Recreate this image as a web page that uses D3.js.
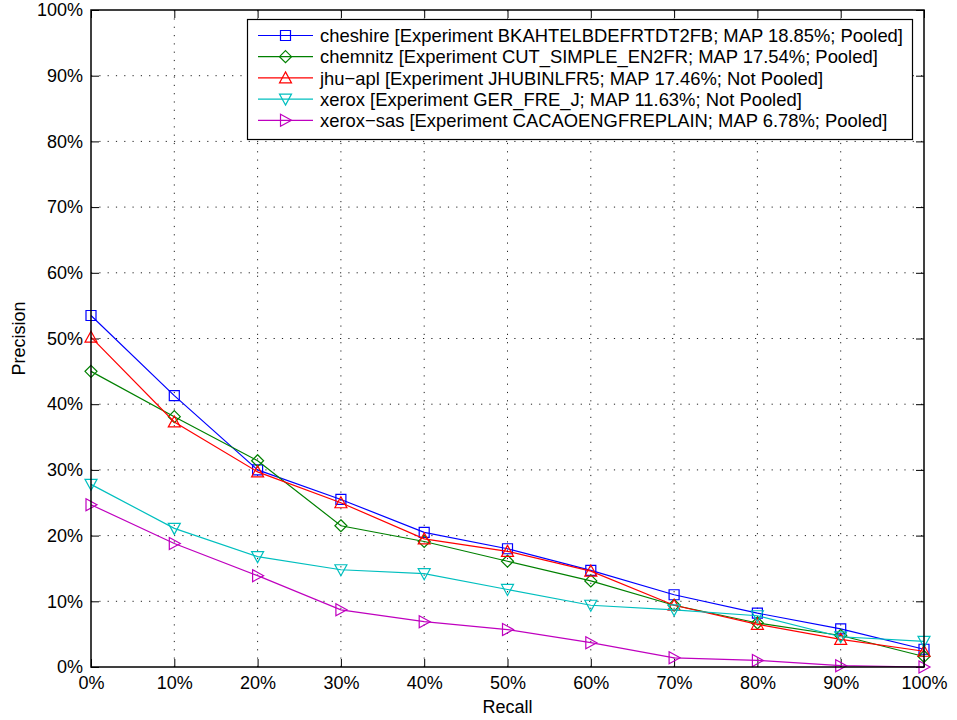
<!DOCTYPE html>
<html>
<head>
<meta charset="utf-8">
<script src="https://cdn.jsdelivr.net/npm/d3@7"></script>
<style>
  html, body { margin: 0; padding: 0; background: #fff; }
  svg { display: block; font-family: "Liberation Sans", Arial, Helvetica, sans-serif; }
</style>
</head>
<body>
<svg id="chart" width="957" height="720"></svg>
<script>
// Recall levels (x) and interpolated precision (%) per run
const recallLevels = [0, 10, 20, 30, 40, 50, 60, 70, 80, 90, 100];
const xTickLabels = ["0%", "10%", "20%", "30%", "40%", "50%", "60%", "70%", "80%", "90%", "100%"];
const yTickLabels = ["0%", "10%", "20%", "30%", "40%", "50%", "60%", "70%", "80%", "90%", "100%"];

const cheshire  = [53.5, 41.3, 30.0, 25.5, 20.5, 18.0, 14.7, 11.0, 8.2, 5.8, 2.7];
const chemnitz  = [45.0, 38.1, 31.4, 21.5, 19.1, 16.1, 13.1, 9.4, 6.7, 4.8, 1.6];
const jhuApl    = [50.2, 37.3, 29.7, 25.0, 19.5, 17.6, 14.6, 9.4, 6.5, 4.2, 2.4];
const xerox     = [27.8, 21.1, 16.8, 14.8, 14.2, 11.8, 9.4, 8.7, 7.8, 4.6, 3.9];
const xeroxSas  = [24.7, 18.8, 13.9, 8.7, 6.9, 5.7, 3.7, 1.4, 1.0, 0.2, 0.0];

const seriesNames = [
  "cheshire [Experiment BKAHTELBDEFRTDT2FB; MAP 18.85%; Pooled]",
  "chemnitz [Experiment CUT_SIMPLE_EN2FR; MAP 17.54%; Pooled]",
  "jhu\u2212apl [Experiment JHUBINLFR5; MAP 17.46%; Not Pooled]",
  "xerox [Experiment GER_FRE_J; MAP 11.63%; Not Pooled]",
  "xerox\u2212sas [Experiment CACAOENGFREPLAIN; MAP 6.78%; Pooled]"
];
const seriesValues = [cheshire, chemnitz, jhuApl, xerox, xeroxSas];
const seriesColors = ["#0000ff", "#008000", "#ff0000", "#00bfbf", "#bf00bf"];
const seriesMarkers = ["square", "diamond", "triUp", "triDown", "triRight"];

const svg = d3.select("#chart");
const margin = { left: 91, right: 33, top: 10, bottom: 53 };
const W = 957, H = 720;
const x = d3.scaleLinear().domain([0, 100]).range([margin.left, W - margin.right]);
const y = d3.scaleLinear().domain([0, 100]).range([H - margin.bottom, margin.top]);
const ticks = d3.range(0, 101, 10);

// Marker path generator, centred on (0,0)
function markerPath(type, s) {
  const h = s / 2;
  switch (type) {
    case "square": return `M${-h},${-h}H${h}V${h}H${-h}Z`;
    case "diamond": return `M0,${-h - 1}L${h + 1},0L0,${h + 1}L${-h - 1},0Z`;
    case "triUp": return `M0,${-h - 1}L${h + 1},${h}L${-h - 1},${h}Z`;
    case "triDown": return `M0,${h + 1}L${h + 1},${-h}L${-h - 1},${-h}Z`;
    case "triRight": return `M${h + 1},0L${-h},${-h - 1}L${-h},${h + 1}Z`;
  }
}

// Dotted grid
const grid = svg.append("g");
grid.selectAll("line.gx").data(ticks.slice(1, -1)).join("line")
  .attr("x1", d => x(d)).attr("x2", d => x(d))
  .attr("y1", y(0)).attr("y2", y(100))
  .attr("stroke", "#222").attr("stroke-width", 1).attr("stroke-dasharray", "1.2,7.1");
grid.selectAll("line.gy").data(ticks.slice(1, -1)).join("line")
  .attr("y1", d => y(d)).attr("y2", d => y(d))
  .attr("x1", x(0)).attr("x2", x(100))
  .attr("stroke", "#222").attr("stroke-width", 1).attr("stroke-dasharray", "1.2,7.1");

// Axes with inward ticks on all four sides
const tickLen = 8;
const xAxis = d3.axisBottom(x).tickValues(ticks).tickFormat((d, i) => xTickLabels[i]).tickSizeInner(-tickLen).tickSizeOuter(0).tickPadding(9);
const yAxis = d3.axisLeft(y).tickValues(ticks).tickFormat((d, i) => yTickLabels[i]).tickSizeInner(-tickLen).tickSizeOuter(0).tickPadding(8);
const xAxisTop = d3.axisTop(x).tickValues(ticks).tickFormat("").tickSizeInner(-tickLen).tickSizeOuter(0);
const yAxisRight = d3.axisRight(y).tickValues(ticks).tickFormat("").tickSizeInner(-tickLen).tickSizeOuter(0);

function styleAxis(g) {
  g.select(".domain").remove();
  g.selectAll(".tick line").attr("stroke", "#000").attr("stroke-width", 1);
  g.selectAll("text").attr("font-size", 18).attr("fill", "#000").attr("font-family", "Liberation Sans, Arial, sans-serif");
}
svg.append("g").attr("transform", `translate(0,${y(0)})`).call(xAxis).call(styleAxis);
svg.append("g").attr("transform", `translate(${x(0)},0)`).call(yAxis).call(styleAxis);
svg.append("g").attr("transform", `translate(0,${y(100)})`).call(xAxisTop).call(styleAxis);
svg.append("g").attr("transform", `translate(${x(100)},0)`).call(yAxisRight).call(styleAxis);

// Series lines and markers
const line = d3.line().x((d, i) => x(recallLevels[i])).y(d => y(d));
seriesValues.forEach((vals, k) => {
  const g = svg.append("g");
  g.append("path").datum(vals).attr("d", line)
    .attr("fill", "none").attr("stroke", seriesColors[k]).attr("stroke-width", 1.2);
  g.selectAll("path.m").data(vals).join("path")
    .attr("class", "m")
    .attr("transform", (d, i) => `translate(${x(recallLevels[i])},${y(d)})`)
    .attr("d", markerPath(seriesMarkers[k], 10))
    .attr("fill", "none").attr("stroke", seriesColors[k]).attr("stroke-width", 1.2);
});

// Plot frame
svg.append("rect")
  .attr("x", x(0)).attr("y", y(100))
  .attr("width", x(100) - x(0)).attr("height", y(0) - y(100))
  .attr("fill", "none").attr("stroke", "#000").attr("stroke-width", 1.5);

// Axis titles
svg.append("text").attr("x", (x(0) + x(100)) / 2).attr("y", 713)
  .attr("text-anchor", "middle").attr("font-size", 18).text("Recall");
svg.append("text").attr("transform", `translate(25,${(y(0) + y(100)) / 2}) rotate(-90)`)
  .attr("text-anchor", "middle").attr("font-size", 18).text("Precision");

// Legend
const legend = svg.append("g");
legend.append("rect").attr("x", 247.5).attr("y", 19.5).attr("width", 665).attr("height", 120)
  .attr("fill", "#fff").attr("stroke", "#000").attr("stroke-width", 1.2);
seriesNames.forEach((name, k) => {
  const ly = 35.5 + k * 21.2;
  legend.append("line").attr("x1", 258).attr("x2", 313).attr("y1", ly).attr("y2", ly)
    .attr("stroke", seriesColors[k]).attr("stroke-width", 1.2);
  legend.append("path").attr("transform", `translate(285.5,${ly})`)
    .attr("d", markerPath(seriesMarkers[k], 10))
    .attr("fill", "none").attr("stroke", seriesColors[k]).attr("stroke-width", 1.2);
  legend.append("text").attr("x", 320).attr("y", ly).attr("dy", "0.36em")
    .attr("font-size", 18.4).attr("fill", "#000").text(name);
});
</script>
</body>
</html>
